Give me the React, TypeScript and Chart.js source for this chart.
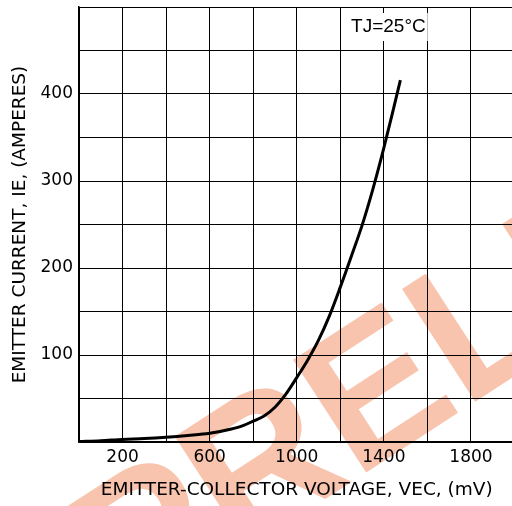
import React, { useEffect, useRef } from "react";
import { Chart, registerables } from "chart.js";

Chart.register(...registerables);

const VEC_MV = [0, 100, 200, 300, 400, 500, 600, 700, 750, 800, 850, 900, 950, 1000, 1050, 1100, 1150, 1200, 1250, 1300, 1350, 1400, 1450, 1476];
const IE_AMPS = [0.5, 1.5, 3, 4, 5.5, 7.5, 10, 15, 18.5, 24, 30, 40, 55, 74, 94, 117, 145, 178, 213, 249, 291, 338, 389, 416];
const X_LABELS = [200, 600, 1000, 1400, 1800];
const Y_LABELS = [100, 200, 300, 400];
const NOTE = "TJ=25°C";
const WATERMARK = "PRELIMINARY";

export default function App() {
  const ref = useRef<HTMLCanvasElement>(null);
  useEffect(() => {
    document.body.style.margin = "0";
    document.body.style.overflow = "hidden";
    const canvas = ref.current!;
    const watermark = {
      id: "watermark",
      beforeDraw(chart: any) {
        const ctx = chart.ctx;
        ctx.save();
        ctx.translate(128, 627);
        ctx.rotate((-33 * Math.PI) / 180);
        ctx.fillStyle = "rgb(248,196,174)";
        ctx.font = "bold 195px 'Liberation Sans'";
        ctx.textBaseline = "alphabetic";
        ctx.textAlign = "left";
        ctx.fillText(WATERMARK, 0, 0);
        ctx.restore();
      },
      afterDraw(chart: any) {
        const ctx = chart.ctx;
        const x = chart.scales.x;
        const y = chart.scales.y;
        const cx = x.getPixelForValue(1421);
        const cy = y.getPixelForValue(477);
        ctx.save();
        ctx.font = "19px 'Liberation Sans'";
        ctx.textAlign = "center";
        ctx.textBaseline = "middle";
        const w = ctx.measureText(NOTE).width;
        ctx.fillStyle = "#fff";
        ctx.fillRect(cx - w / 2 - 2, cy - 14, w + 4, 28);
        ctx.fillStyle = "#000";
        ctx.fillText(NOTE, cx, cy);
        ctx.restore();
      },
    };
    const chart = new Chart(canvas, {
      type: "line",
      data: {
        datasets: [
          {
            data: VEC_MV.map((v, i) => ({ x: v, y: IE_AMPS[i] })),
            borderColor: "#000",
            borderWidth: 3,
            pointRadius: 0,
            cubicInterpolationMode: "monotone",
            fill: false,
          },
        ],
      },
      options: {
        animation: false,
        responsive: false,
        devicePixelRatio: 1,
        layout: { padding: { top: 7, right: 5.5, left: 0, bottom: 0 } },
        plugins: { legend: { display: false }, tooltip: { enabled: false } },
        scales: {
          x: {
            type: "linear",
            min: 0,
            max: 2000,
            afterFit: (s: any) => {
              s.height = 64;
              s.paddingLeft = 0;
              s.paddingRight = 0;
            },
            grid: { color: "#000", lineWidth: 1, drawTicks: false },
            border: { color: "#000", width: 1.5 },
            ticks: {
              stepSize: 200,
              autoSkip: false,
              maxRotation: 0,
              padding: 5,
              color: "#000",
              font: { family: "'DejaVu Sans'", size: 17 },
              callback: (v: any) => (X_LABELS.includes(Number(v)) ? String(v) : ""),
            },
            title: {
              display: true,
              text: "EMITTER-COLLECTOR VOLTAGE, VEC, (mV)",
              color: "#000",
              font: { family: "'DejaVu Sans'", size: 18.5 },
              padding: { top: 0, bottom: 5 },
            },
          },
          y: {
            min: 0,
            max: 500,
            afterFit: (s: any) => {
              s.width = 79;
              s.paddingTop = 0;
              s.paddingBottom = 0;
            },
            grid: { color: "#000", lineWidth: 1, drawTicks: false },
            border: { color: "#000", width: 1.5 },
            ticks: {
              stepSize: 50,
              autoSkip: false,
              padding: 6,
              color: "#000",
              font: { family: "'DejaVu Sans'", size: 17 },
              callback: (v: any) => (Y_LABELS.includes(Number(v)) ? String(v) : ""),
            },
            title: {
              display: true,
              text: "EMITTER CURRENT, IE, (AMPERES)",
              color: "#000",
              font: { family: "'DejaVu Sans'", size: 18.5 },
              padding: { top: 9, bottom: 0 },
            },
          },
        },
      },
      plugins: [watermark],
    });
    return () => chart.destroy();
  }, []);
  return <canvas ref={ref} width={520} height={506} style={{ display: "block" }} />;
}
